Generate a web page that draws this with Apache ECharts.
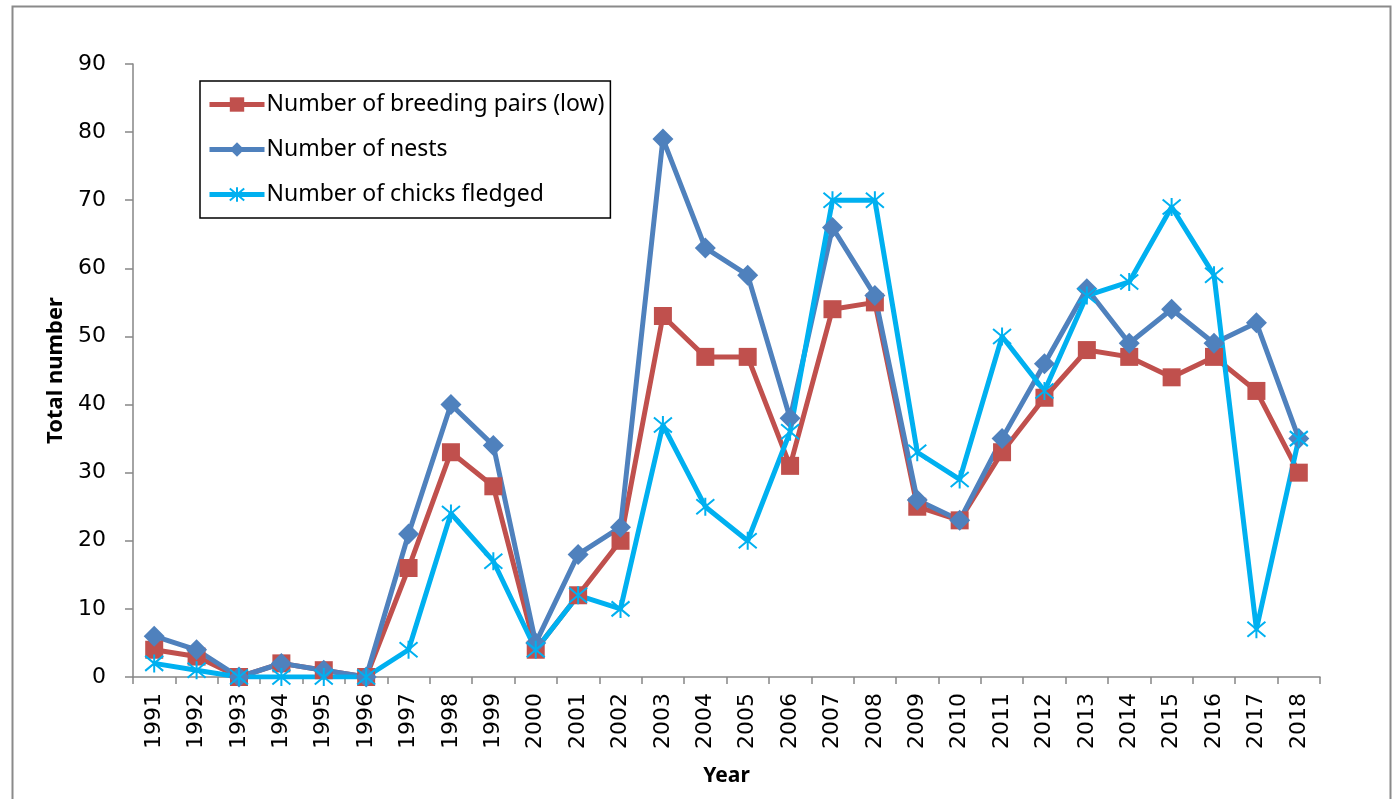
<!DOCTYPE html>
<html>
<head>
<meta charset="utf-8">
<script src="https://cdn.jsdelivr.net/npm/echarts@6/dist/echarts.min.js"></script>
<style>
html,body{margin:0;padding:0;background:#fff;}
#chart{width:1392px;height:799px;}
</style>
</head>
<body>
<div id="chart"></div>
<script>
const years = ['1991','1992','1993','1994','1995','1996','1997','1998','1999','2000','2001','2002','2003','2004','2005','2006','2007','2008','2009','2010','2011','2012','2013','2014','2015','2016','2017','2018'];
const breedingPairs = [4,3,0,2,1,0,16,33,28,4,12,20,53,47,47,31,54,55,25,23,33,41,48,47,44,47,42,30];
const nests = [6,4,0,2,1,0,21,40,34,5,18,22,79,63,59,38,66,56,26,23,35,46,57,49,54,49,52,35];
const chicks = [2,1,0,0,0,0,4,24,17,4,12,10,37,25,20,36,70,70,33,29,50,42,56,58,69,59,7,35];
const yTicks = [0,10,20,30,40,50,60,70,80,90];

const chart = echarts.init(document.getElementById('chart'));
const axisGray = '#868686';
const star = 'path://M0,0L10,10M10,0L0,10M5,-1L5,11';

chart.setOption({
  animation: false,
  backgroundColor: '#fff',
  graphic: [{
    type: 'rect', left: 10, top: 4,
    shape: {width: 1378, height: 810},
    style: {fill: 'none', stroke: '#8a8a8a', lineWidth: 2}
  }],
  grid: {left: 133, right: 72, top: 64, bottom: 122},
  legend: {
    orient: 'vertical',
    left: 200, top: 81,
    padding: [12, 6, 12, 7],
    borderColor: '#000', borderWidth: 1.5,
    itemWidth: 55, itemHeight: 18, itemGap: 22,
    lineStyle: {width: 5},
    textStyle: {fontFamily: 'Noto Sans', fontSize: 23, color: '#000', padding: [0,0,0,-3]},
    data: ['Number of breeding pairs (low)', 'Number of nests', 'Number of chicks fledged']
  },
  xAxis: {
    type: 'category',
    data: years,
    boundaryGap: true,
    name: 'Year', nameLocation: 'middle', nameGap: 89,
    nameTextStyle: {fontFamily: 'Noto Sans', fontWeight: 'bold', fontSize: 21, color: '#000'},
    axisLine: {lineStyle: {color: axisGray, width: 1.5}},
    axisTick: {show: true, length: 7, lineStyle: {color: axisGray, width: 1.5}},
    axisLabel: {rotate: 90, margin: 16, fontFamily: 'DejaVu Sans', fontSize: 22, color: '#000', interval: 0},
    splitLine: {show: false}
  },
  yAxis: {
    type: 'value',
    min: yTicks[0], max: yTicks[yTicks.length-1], interval: 10,
    name: 'Total number', nameLocation: 'middle', nameGap: 64,
    nameTextStyle: {fontFamily: 'Noto Sans', fontWeight: 'bold', fontSize: 22, color: '#000'},
    axisLine: {show: true, lineStyle: {color: axisGray, width: 1.5}},
    axisTick: {show: true, length: 8, lineStyle: {color: axisGray, width: 1.5}},
    axisLabel: {margin: 27, fontFamily: 'DejaVu Sans', fontSize: 22, color: '#000'},
    splitLine: {show: false}
  },
  series: [
    {
      name: 'Number of breeding pairs (low)', type: 'line', data: breedingPairs,
      symbol: 'rect', symbolSize: 18,
      lineStyle: {color: '#C0504D', width: 5},
      itemStyle: {color: '#C0504D'}
    },
    {
      name: 'Number of nests', type: 'line', data: nests,
      symbol: 'diamond', symbolSize: 21,
      lineStyle: {color: '#4F81BD', width: 5},
      itemStyle: {color: '#4F81BD'}
    },
    {
      name: 'Number of chicks fledged', type: 'line', data: chicks,
      symbol: star, symbolSize: 18,
      lineStyle: {color: '#00B0F0', width: 5},
      itemStyle: {color: '#00B0F0', borderColor: '#00B0F0', borderWidth: 2}
    }
  ]
});
</script>
</body>
</html>
